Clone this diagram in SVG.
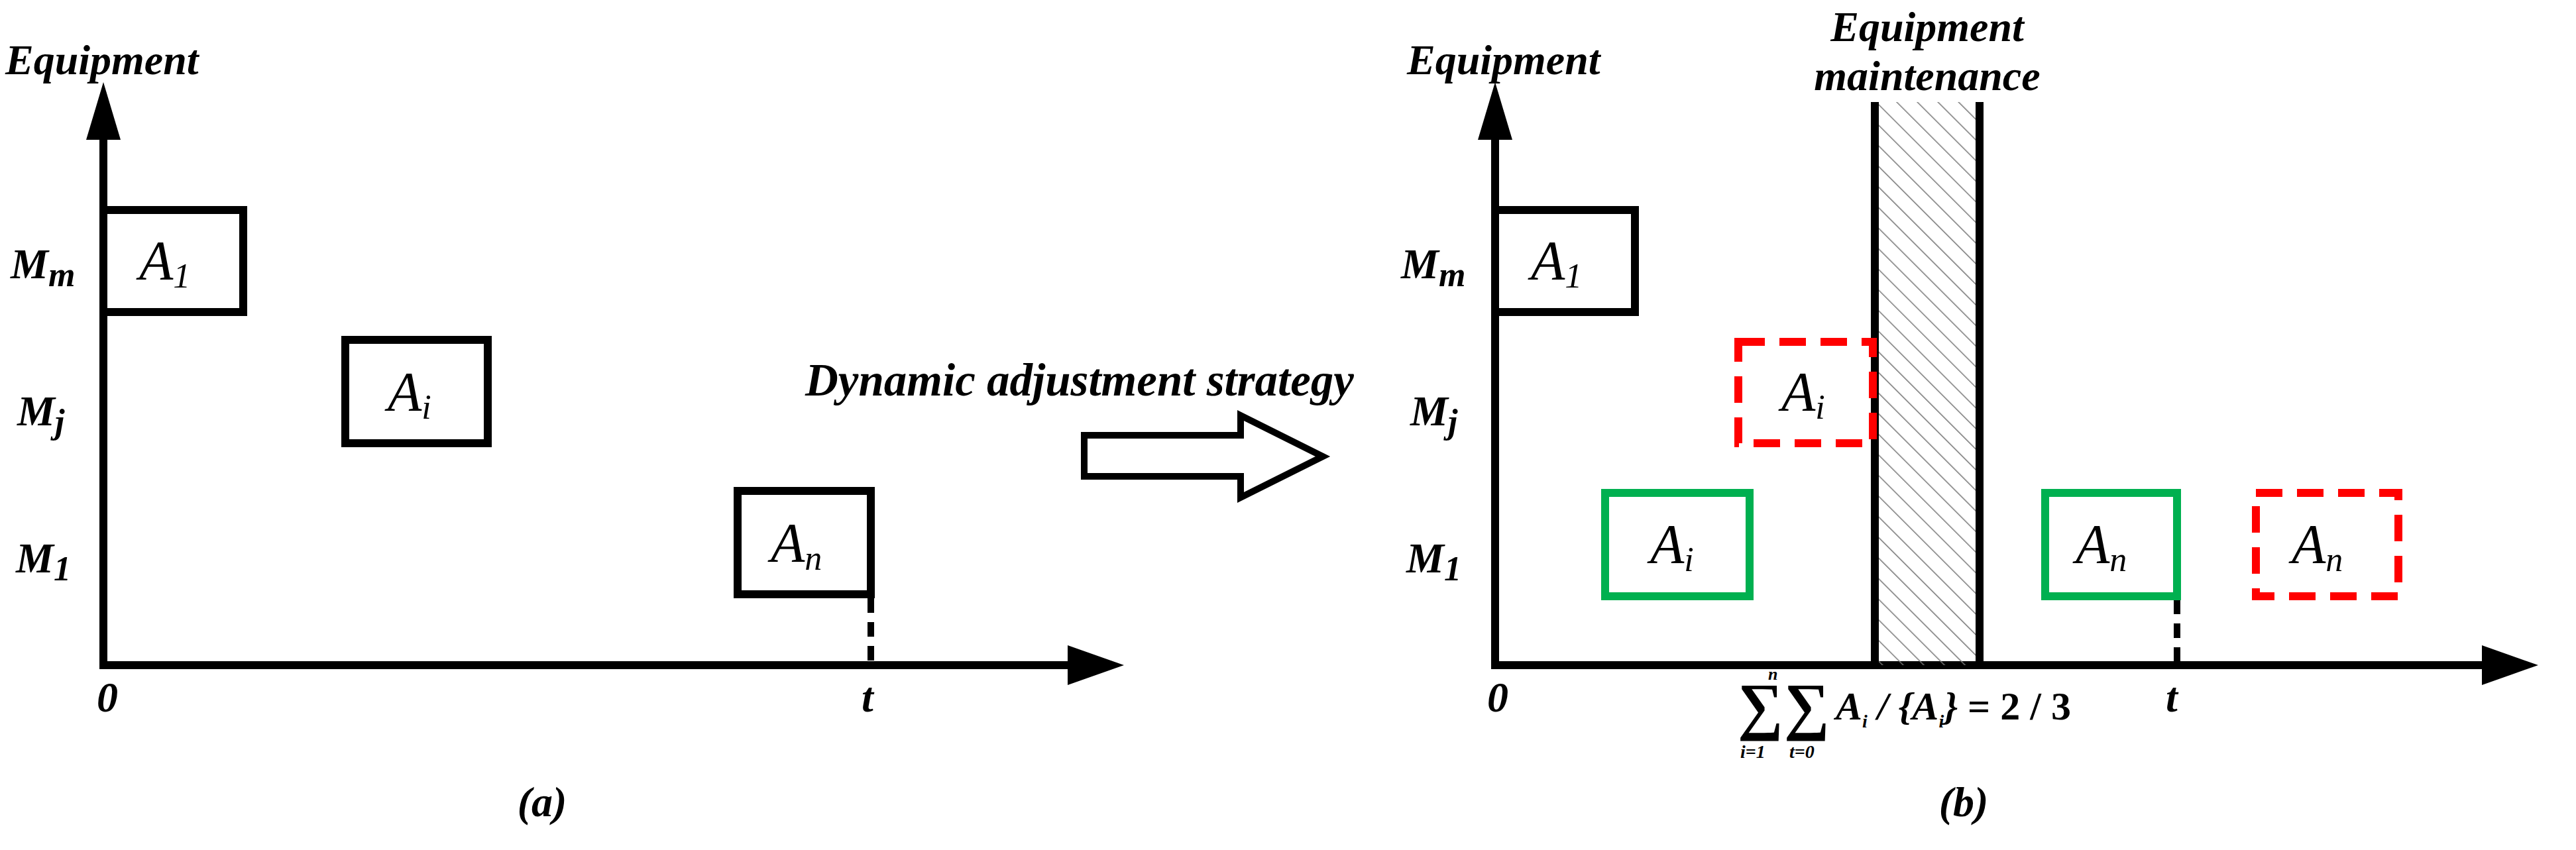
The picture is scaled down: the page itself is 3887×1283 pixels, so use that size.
<svg xmlns="http://www.w3.org/2000/svg" width="3887" height="1283" viewBox="0 0 3887 1283">
<style>
text{font-family:"Liberation Serif",serif;font-style:italic;font-weight:bold;fill:#000}
.lbl{font-size:64px}
.box{font-size:84px;font-weight:normal}
.sub{font-size:52px}
.ax{stroke:#000;stroke-width:12;fill:none}
.bk{stroke:#000;stroke-width:12;fill:#fff}
.gr{stroke:#00b050;stroke-width:12;fill:none}
.rd{stroke:#ff0000;stroke-width:12;fill:none;stroke-dasharray:40 22}
.dt{stroke:#000;stroke-width:10;stroke-dasharray:22 14}
</style>
<defs>
<pattern id="hatch" width="22" height="22" patternUnits="userSpaceOnUse" patternTransform="rotate(-45)">
<line x1="0" y1="0" x2="0" y2="22" stroke="#777" stroke-width="3"/>
</pattern>
</defs>
<g id="connectors">
<line class="ax" x1="156" y1="1004" x2="156" y2="200"/>
<polygon points="156,124 130,211 182,211"/>
<line class="ax" x1="150" y1="1004" x2="1620" y2="1004"/>
<polygon points="1696,1004 1611,974 1611,1034"/>
<line class="dt" x1="1314" y1="903" x2="1314" y2="1000"/>
<polygon points="1636,657 1872,657 1872,627 1996,689 1872,751 1872,719 1636,719" fill="#fff" stroke="#000" stroke-width="10"/>
<line class="ax" x1="2256" y1="1004" x2="2256" y2="200"/>
<polygon points="2256,124 2230,211 2282,211"/>
<line class="ax" x1="2250" y1="1004" x2="3760" y2="1004"/>
<polygon points="3830,1004 3745,974 3745,1034"/>
<line class="dt" x1="3285" y1="905" x2="3285" y2="1000"/>
</g>
<g id="maintenance">
<rect x="2829" y="154" width="158" height="850" fill="url(#hatch)"/>
<line class="ax" x1="2829" y1="154" x2="2829" y2="1004"/>
<line class="ax" x1="2987" y1="154" x2="2987" y2="1004"/>
<text class="lbl" x="2908" y="62" text-anchor="middle">Equipment</text>
<text class="lbl" x="2908" y="136" text-anchor="middle">maintenance</text>
</g>
<g id="panel-a-labels">
<text class="lbl" x="8" y="112">Equipment</text>
<text class="lbl" x="16" y="420">M<tspan class="sub" dy="12">m</tspan></text>
<text class="lbl" x="26" y="642">M<tspan class="sub" dy="12">j</tspan></text>
<text class="lbl" x="24" y="864">M<tspan class="sub" dy="12">1</tspan></text>
<text class="lbl" x="146" y="1074" font-size="48">0</text>
<text class="lbl" x="1300" y="1074" font-size="48">t</text>
<text class="lbl" x="818" y="1232" font-size="48" text-anchor="middle">(a)</text>
<text x="1215" y="597" font-size="69">Dynamic adjustment strategy</text>
</g>
<g id="a-A1"><rect class="bk" x="156" y="317" width="211" height="154"/><text class="box" x="210" y="422">A<tspan class="sub" dy="12">1</tspan></text></g>
<g id="a-Ai"><rect class="bk" x="521" y="513" width="215" height="156"/><text class="box" x="585" y="620">A<tspan class="sub" dy="12">i</tspan></text></g>
<g id="a-An"><rect class="bk" x="1113" y="741" width="201" height="156"/><text class="box" x="1163" y="848">A<tspan class="sub" dy="12">n</tspan></text></g>
<g id="panel-b-labels">
<text class="lbl" x="2123" y="112">Equipment</text>
<text class="lbl" x="2114" y="420">M<tspan class="sub" dy="12">m</tspan></text>
<text class="lbl" x="2128" y="642">M<tspan class="sub" dy="12">j</tspan></text>
<text class="lbl" x="2122" y="864">M<tspan class="sub" dy="12">1</tspan></text>
<text class="lbl" x="2244" y="1074" font-size="48">0</text>
<text class="lbl" x="3268" y="1074" font-size="48">t</text>
<text class="lbl" x="2963" y="1232" font-size="48" text-anchor="middle">(b)</text>
</g>
<g id="b-A1"><rect class="bk" x="2256" y="317" width="211" height="154"/><text class="box" x="2310" y="422">A<tspan class="sub" dy="12">1</tspan></text></g>
<g id="b-Ai-red"><rect class="rd" x="2623" y="516" width="203" height="153"/><text class="box" x="2688" y="620">A<tspan class="sub" dy="12">i</tspan></text></g>
<g id="b-Ai-green"><rect class="gr" x="2422" y="744" width="218" height="156"/><text class="box" x="2490" y="850">A<tspan class="sub" dy="12">i</tspan></text></g>
<g id="b-An-green"><rect class="gr" x="3086" y="744" width="199" height="156"/><text class="box" x="3132" y="850">A<tspan class="sub" dy="12">n</tspan></text></g>
<g id="b-An-red"><rect class="rd" x="3404" y="744" width="215" height="156"/><text class="box" x="3458" y="850">A<tspan class="sub" dy="12">n</tspan></text></g>
<g id="formula">
<text x="2622" y="1098" font-size="96" font-style="normal" font-weight="normal">∑</text>
<text x="2668" y="1026" font-size="26" font-weight="normal">n</text>
<text x="2626" y="1144" font-size="28" font-weight="normal">i=1</text>
<text x="2692" y="1098" font-size="96" font-style="normal" font-weight="normal">∑</text>
<text x="2700" y="1144" font-size="28" font-weight="normal">t=0</text>
<text x="2770" y="1086" font-size="60" font-weight="normal">A<tspan font-size="28" dy="12">i</tspan><tspan dy="-12"> / {A</tspan><tspan font-size="28" dy="12">i</tspan><tspan dy="-12">} </tspan><tspan font-style="normal" font-weight="bold">= 2 / 3</tspan></text>
</g>
</svg>
